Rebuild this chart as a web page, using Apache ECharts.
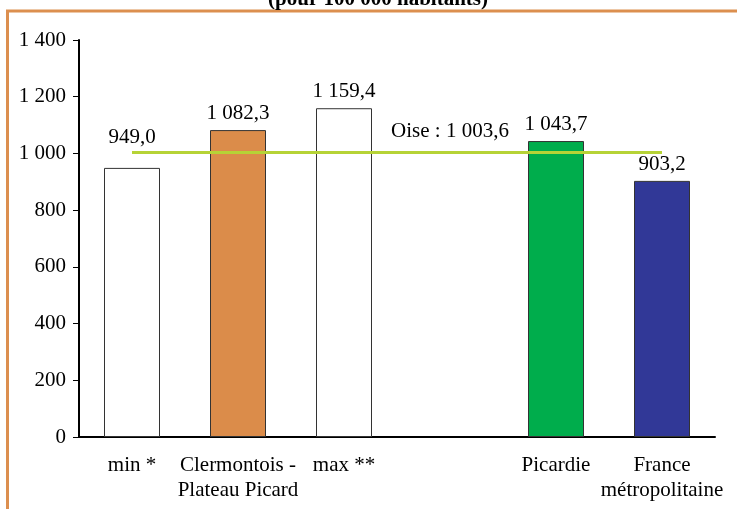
<!DOCTYPE html>
<html>
<head>
<meta charset="utf-8">
<script src="https://cdn.jsdelivr.net/npm/echarts@6/dist/echarts.min.js"></script>
<style>
html,body{margin:0;padding:0;background:#fff;}
#chart{width:737px;height:509px;}
</style>
</head>
<body>
<div id="chart"></div>
<script>
// ---- data ----
const titleText = '(pour 100 000 habitants)';
const categories = ['min *', 'Clermontois -\nPlateau Picard', 'max **', '', 'Picardie', 'France\nmétropolitaine'];
const values = [949.0, 1082.3, 1159.4, null, 1043.7, 903.2];
const oiseLabel = 'Oise : 1 003,6';
const oiseValue = 1003.6;
const yMin = 0, yMax = 1400, yStep = 200;

// ---- styles ----
const barColors = ['#ffffff', '#db8c4a', '#ffffff', '#ffffff', '#00ad4c', '#313897'];
const FONT = 'Liberation Serif';
const FS = 21;

function fr(v, dec) {
  let s = dec ? v.toFixed(dec) : String(Math.round(v));
  let parts = s.split('.');
  parts[0] = parts[0].replace(/\B(?=(\d{3})+(?!\d))/g, ' ');
  return parts.join(',');
}

const chart = echarts.init(document.getElementById('chart'));
chart.setOption({
  animation: false,
  backgroundColor: '#ffffff',
  textStyle: { fontFamily: FONT },
  graphic: [
    { type: 'rect', shape: { x: 7.5, y: 11, width: 760, height: 540 },
      style: { fill: 'none', stroke: '#dc8f4f', lineWidth: 3 }, silent: true },
    { type: 'text', x: 378, y: 10, style: { text: titleText, font: 'bold 21px "Liberation Serif"',
      fill: '#000', align: 'center', verticalAlign: 'bottom' } }
  ],
  grid: { left: 79, right: 22, top: 40, bottom: 72, containLabel: false },
  xAxis: {
    type: 'category',
    data: categories,
    axisTick: { show: false },
    axisLine: { lineStyle: { color: '#000', width: 2 } },
    axisLabel: { color: '#000', fontSize: FS, fontFamily: FONT, margin: 16, lineHeight: 25, interval: 0 }
  },
  yAxis: {
    type: 'value',
    min: yMin, max: yMax, interval: yStep,
    splitLine: { show: false },
    axisLine: { show: true, lineStyle: { color: '#000', width: 2 } },
    axisTick: { show: true, length: 6, lineStyle: { color: '#000', width: 1 } },
    axisLabel: { color: '#000', fontSize: FS, fontFamily: FONT, margin: 13,
      formatter: v => fr(v) }
  },
  series: [{
    type: 'bar',
    barWidth: 56,
    data: values.map((v, i) => ({
      value: v,
      itemStyle: { color: barColors[i], borderColor: '#333', borderWidth: 1 },
      label: i === 0 ? { offset: [0, -14] } : {}
    })),
    label: {
      show: true, position: 'top', distance: 6, color: '#000', fontSize: FS, fontFamily: FONT,
      formatter: p => p.value == null ? '' : fr(p.value, 1)
    },
    markLine: {
      silent: true,
      symbol: 'none',
      label: { show: false },
      lineStyle: { color: '#b6d336', width: 3, type: 'solid' },
      data: [[{ coord: [0, oiseValue] }, { coord: [5, oiseValue] }]]
    },
    markPoint: {
      silent: true,
      symbol: 'circle',
      symbolSize: 0,
      data: [{ coord: [3, oiseValue] }],
      label: { show: true, position: 'top', distance: 10, color: '#000', fontSize: FS, fontFamily: FONT,
        formatter: () => oiseLabel }
    }
  }]
});
</script>
</body>
</html>
